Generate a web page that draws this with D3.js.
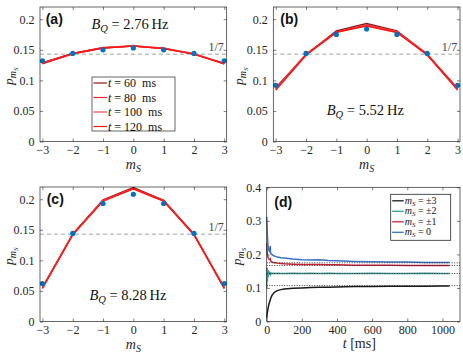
<!DOCTYPE html>
<html>
<head>
<meta charset="utf-8">
<script src="https://cdn.jsdelivr.net/npm/d3@7"></script>
<style>
  body { margin: 0; background: #fff; }
  svg { display: block; }
</style>
</head>
<body>
<script>
// m_S categories and y ticks for the spin-population panels
var mS = [-3, -2, -1, 0, 1, 2, 3];
var yTicksProfile = [0, 0.05, 0.1, 0.15, 0.2];
var yTickLabelsProfile = ["0", "0.05", "0.1", "0.15", "0.2"];
var evolveTimes = ["60", "80", "100", "120"]; // ms, legend of (a)
var evolveColors = ["#8c1a1a", "#e0282e", "#f24a50", "#ff1414"];

// (a) B_Q = 2.76 Hz
var expA = [0.132, 0.144, 0.150, 0.153, 0.150, 0.144, 0.132];
var theoA = [
  [0.129, 0.144, 0.153, 0.156, 0.152, 0.143, 0.128],
  [0.128, 0.144, 0.154, 0.156, 0.153, 0.143, 0.127],
  [0.128, 0.143, 0.153, 0.157, 0.152, 0.144, 0.127],
  [0.127, 0.144, 0.153, 0.156, 0.152, 0.143, 0.127]
];
// (b) B_Q = 5.52 Hz
var expB = [0.092, 0.144, 0.175, 0.184, 0.175, 0.144, 0.092];
var theoB = [
  [0.088, 0.142, 0.181, 0.193, 0.181, 0.142, 0.087],
  [0.086, 0.143, 0.179, 0.191, 0.180, 0.143, 0.086],
  [0.085, 0.142, 0.178, 0.190, 0.179, 0.141, 0.085],
  [0.084, 0.141, 0.179, 0.189, 0.178, 0.142, 0.084]
];
// (c) B_Q = 8.28 Hz
var expC = [0.062, 0.144, 0.193, 0.208, 0.193, 0.144, 0.062];
var theoC = [
  [0.056, 0.143, 0.199, 0.219, 0.198, 0.143, 0.055],
  [0.055, 0.143, 0.198, 0.218, 0.198, 0.142, 0.055],
  [0.055, 0.142, 0.198, 0.217, 0.197, 0.142, 0.054],
  [0.054, 0.142, 0.197, 0.217, 0.197, 0.142, 0.054]
];

// (d) time evolution, t in ms
var tMs = [0, 2, 4, 6, 8, 10, 12, 15, 18, 20, 22, 25, 30, 40, 50, 60, 80, 100, 150, 200, 250, 300, 350, 400, 500, 600, 700, 800, 900, 1000, 1040];
var pm3 = [0.010, 0.020, 0.028, 0.034, 0.040, 0.045, 0.050, 0.056, 0.060, 0.064, 0.068, 0.072, 0.078, 0.085, 0.089, 0.092, 0.095, 0.097, 0.099, 0.100, 0.101, 0.102, 0.102, 0.103, 0.104, 0.104, 0.105, 0.105, 0.105, 0.106, 0.106];
var pm2 = [0.100, 0.160, 0.120, 0.155, 0.132, 0.152, 0.138, 0.149, 0.140, 0.146, 0.141, 0.145, 0.143, 0.144, 0.143, 0.144, 0.143, 0.143, 0.144, 0.143, 0.144, 0.143, 0.144, 0.143, 0.143, 0.144, 0.143, 0.143, 0.144, 0.143, 0.143];
var pm1 = [0.235, 0.215, 0.200, 0.195, 0.190, 0.188, 0.186, 0.185, 0.184, 0.186, 0.181, 0.179, 0.177, 0.176, 0.175, 0.174, 0.173, 0.172, 0.171, 0.170, 0.170, 0.170, 0.169, 0.169, 0.168, 0.168, 0.168, 0.167, 0.167, 0.167, 0.167];
var pm0 = [0.312, 0.290, 0.255, 0.235, 0.225, 0.218, 0.213, 0.210, 0.215, 0.225, 0.205, 0.202, 0.199, 0.196, 0.194, 0.192, 0.190, 0.189, 0.186, 0.184, 0.183, 0.184, 0.182, 0.181, 0.179, 0.178, 0.177, 0.177, 0.176, 0.176, 0.176];
var steady = [0.175, 0.167, 0.143, 0.107];
var seriesLabels = ["\u00b13", "\u00b12", "\u00b11", "0"];
var seriesColors = ["#1a1a1a", "#3a9a8e", "#c8203a", "#3a6fc2"];
var xTicksTime = [0, 200, 400, 600, 800, 1000];
var yTicksTime = [0, 0.1, 0.2, 0.3, 0.4];
var yTickLabelsTime = ["0", "0.1", "0.2", "0.3", "0.4"];

var W = 463, H = 360;
var svg = d3.select("body").append("svg").attr("width", W).attr("height", H);
var serif = "'Liberation Serif', 'Times New Roman', serif";
var sans = "'Liberation Sans', Arial, sans-serif";
var axisColor = "#262626";

// inward ticks on all four sides, MATLAB style
function drawFrame(g, x, y, xt, yt, ytLabels, w, h) {
  g.append("g").attr("transform", "translate(0," + h + ")")
    .call(d3.axisBottom(x).tickValues(xt).tickSize(-3).tickPadding(4).tickFormat(d3.format("d")))
    .call(function(s){ s.select(".domain").remove(); });
  g.append("g")
    .call(d3.axisLeft(y).tickValues(yt).tickSize(-3).tickPadding(5.5)
      .tickFormat(function(d, i){ return ytLabels[i]; }))
    .call(function(s){ s.select(".domain").remove(); });
  g.append("g").call(d3.axisTop(x).tickValues(xt).tickSize(-3).tickFormat(""))
    .call(function(s){ s.select(".domain").remove(); });
  g.append("g").attr("transform", "translate(" + w + ",0)")
    .call(d3.axisRight(y).tickValues(yt).tickSize(-3).tickFormat(""))
    .call(function(s){ s.select(".domain").remove(); });
  g.selectAll(".tick line").attr("stroke", axisColor).attr("stroke-width", 0.6);
  g.selectAll(".tick text").attr("font-family", serif).attr("font-size", 12).attr("fill", axisColor);
  g.append("rect").attr("width", w).attr("height", h)
    .attr("fill", "none").attr("stroke", axisColor).attr("stroke-width", 0.7);
}

function yLabel(g, xPos, yPos) {
  var t = g.append("text").attr("transform", "translate(" + xPos + "," + yPos + ") rotate(-90)")
    .attr("text-anchor", "middle").attr("font-family", serif).attr("fill", axisColor);
  t.append("tspan").attr("font-style", "italic").attr("font-size", 13.5).text("p");
  t.append("tspan").attr("font-style", "italic").attr("font-size", 10).attr("dy", 3).text("m");
  t.append("tspan").attr("font-style", "italic").attr("font-size", 7).attr("dy", 2).text("S");
}

function mSLabel(g, xPos, yPos) {
  var t = g.append("text").attr("x", xPos).attr("y", yPos)
    .attr("text-anchor", "middle").attr("font-family", serif).attr("fill", axisColor);
  t.append("tspan").attr("font-style", "italic").attr("font-size", 14).text("m");
  t.append("tspan").attr("font-style", "italic").attr("font-size", 10).attr("dy", 3).text("S");
}

function bqLabel(g, xPos, yPos, val) {
  var t = g.append("text").attr("x", xPos).attr("y", yPos)
    .attr("text-anchor", "middle").attr("font-family", serif).attr("font-size", 14.5).attr("fill", "#111");
  t.append("tspan").attr("font-style", "italic").text("B");
  t.append("tspan").attr("font-style", "italic").attr("font-size", 10.5).attr("dy", 3).text("Q");
  t.append("tspan").attr("dy", -3).text(" = " + val + "\u2009Hz");
}

function profilePanel(left, top, letter, expData, theo, bqVal, bqPos, letterX, ylx, showLegend) {
  var w = 186.7, h = 134.5;
  var g = svg.append("g").attr("transform", "translate(" + left + "," + top + ")");
  var x = d3.scaleLinear().domain([-3.08, 3.08]).range([0, w]);
  var y = d3.scaleLinear().domain([0, 0.22]).range([h, 0]);

  // 1/7 reference
  g.append("line").attr("x1", 0).attr("x2", w).attr("y1", y(1 / 7)).attr("y2", y(1 / 7))
    .attr("stroke", "#8a8a8a").attr("stroke-width", 0.8).attr("stroke-dasharray", "4,3");
  g.append("text").attr("x", x(2.48)).attr("y", y(1 / 7) - 3).attr("font-family", serif)
    .attr("font-size", 12).attr("fill", "#444").text("1/7");

  var line = d3.line().x(function(d, i){ return x(mS[i]); }).y(function(d){ return y(d); });
  theo.forEach(function(s, k) {
    g.append("path").datum(s).attr("d", line).attr("fill", "none")
      .attr("stroke", evolveColors[k]).attr("stroke-width", 1.4);
  });
  g.selectAll("circle").data(expData).enter().append("circle")
    .attr("cx", function(d, i){ return x(mS[i]); }).attr("cy", function(d){ return y(d); })
    .attr("r", 2.6).attr("fill", "#0072bd");

  drawFrame(g, x, y, mS, yTicksProfile, yTickLabelsProfile, w, h);

  g.append("text").attr("x", letterX).attr("y", 16.5).attr("font-family", sans).attr("font-weight", "bold")
    .attr("font-size", 14).attr("fill", "#111").text("(" + letter + ")");
  bqLabel(g, bqPos[0], bqPos[1], bqVal);
  mSLabel(g, w / 2, h + 27);
  yLabel(g, ylx, h / 2 + 2);

  if (showLegend) {
    var lg = g.append("g").attr("transform", "translate(52,70)");
    lg.append("rect").attr("width", 83).attr("height", 54)
      .attr("fill", "#fff").attr("stroke", axisColor).attr("stroke-width", 0.7);
    evolveTimes.forEach(function(tv, k) {
      var yy = 6 + k * 14.5;
      lg.append("line").attr("x1", 1.5).attr("x2", 15).attr("y1", yy).attr("y2", yy)
        .attr("stroke", evolveColors[k]).attr("stroke-width", 1.2);
      var t = lg.append("text").attr("x", 16).attr("y", yy + 4).attr("font-family", serif)
        .attr("font-size", 12).attr("fill", "#111");
      t.append("tspan").attr("font-style", "italic").text("t");
      t.append("tspan").text(" = " + tv + "\u00a0 ms");
    });
  }
}

profilePanel(40, 7, "a", expA, theoA, "2.76", [90, 22], 5.7, -27.5, true);
profilePanel(273.3, 7, "b", expB, theoB, "5.52", [92, 108], 7, -30, false);
profilePanel(40, 187, "c", expC, theoC, "8.28", [88, 113], 6.7, -27.5, false);

// (d) time evolution
(function() {
  var left = 266.7, top = 187.3, w = 193.3, h = 134.2;
  var g = svg.append("g").attr("transform", "translate(" + left + "," + top + ")");
  var x = d3.scaleLinear().domain([0, 1100]).range([0, w]);
  var y = d3.scaleLinear().domain([0, 0.4]).range([h, 0]);
  var series = [pm3, pm2, pm1, pm0];

  var line = d3.line().x(function(d, i){ return x(tMs[i]); }).y(function(d){ return y(d); });
  series.forEach(function(s, k) {
    g.append("path").datum(s).attr("d", line).attr("fill", "none")
      .attr("stroke", seriesColors[k]).attr("stroke-width", 1.5);
  });
  steady.forEach(function(v) {
    g.append("line").attr("x1", 0).attr("x2", w).attr("y1", y(v)).attr("y2", y(v))
      .attr("stroke", "#222").attr("stroke-width", 0.9).attr("stroke-dasharray", "1,1.5");
  });

  drawFrame(g, x, y, xTicksTime, yTicksTime, yTickLabelsTime, w, h);

  g.append("text").attr("x", 7.6).attr("y", 19.3).attr("font-family", sans).attr("font-weight", "bold")
    .attr("font-size", 14).attr("fill", "#111").text("(d)");
  var xl = g.append("text").attr("x", w / 2 - 4).attr("y", h + 27).attr("text-anchor", "middle")
    .attr("font-family", serif).attr("font-size", 14).attr("fill", axisColor);
  xl.append("tspan").attr("font-style", "italic").text("t");
  xl.append("tspan").text(" [ms]");
  yLabel(g, -26, h / 2 + 2);

  var lg = g.append("g").attr("transform", "translate(124,7)");
  lg.append("rect").attr("width", 60).attr("height", 46)
    .attr("fill", "#fff").attr("stroke", axisColor).attr("stroke-width", 0.8);
  seriesLabels.forEach(function(lab, k) {
    var yy = 6.5 + k * 10.5;
    lg.append("line").attr("x1", 1.5).attr("x2", 13).attr("y1", yy).attr("y2", yy)
      .attr("stroke", seriesColors[k]).attr("stroke-width", 1.3);
    var t = lg.append("text").attr("x", 14).attr("y", yy + 3).attr("font-family", serif)
      .attr("font-size", 10).attr("fill", "#111");
    t.append("tspan").attr("font-style", "italic").text("m");
    t.append("tspan").attr("font-style", "italic").attr("font-size", 7).attr("dy", 2).text("S");
    t.append("tspan").attr("dy", -2).text(" = " + lab);
  });
})();
</script>
</body>
</html>
